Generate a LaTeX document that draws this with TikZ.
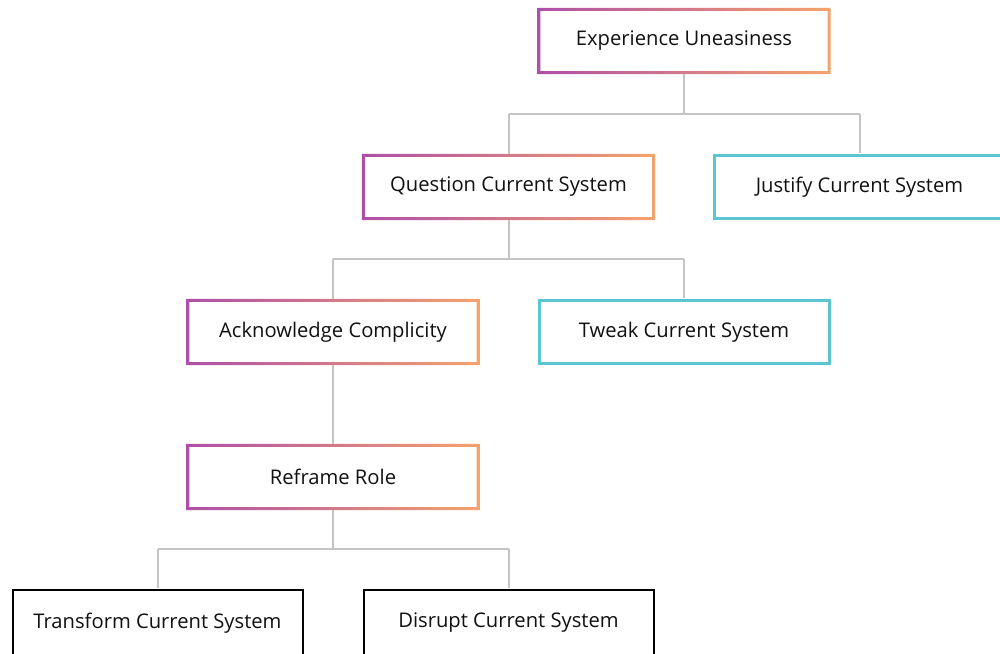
\documentclass[tikz,border=0pt]{standalone}
\usepackage{fontspec}
\setmainfont{Open Sans}
\definecolor{gpurple}{HTML}{AE4FA8}
\definecolor{gorange}{HTML}{F5A36C}
\definecolor{gteal}{HTML}{5BC5D2}
\definecolor{lgray}{HTML}{C4C4C4}
\definecolor{txt}{HTML}{111111}
\tikzset{
  boxnode/.style={minimum width=290pt,minimum height=63pt,inner sep=0pt,font=\fontsize{20.2}{24}\selectfont,text=txt},
  tealbox/.style={boxnode,draw=gteal,line width=3pt},
  blackbox/.style={boxnode,draw=black,line width=2pt,minimum height=66pt},
  conn/.style={draw=lgray,line width=2pt},
}
\newcommand{\gradborder}[1]{%
  \shade[left color=gpurple,right color=gorange,even odd rule]
    ([xshift=-1.5pt,yshift=-1.5pt]#1.south west) rectangle ([xshift=1.5pt,yshift=1.5pt]#1.north east)
    ([xshift=1.5pt,yshift=1.5pt]#1.south west) rectangle ([xshift=-1.5pt,yshift=-1.5pt]#1.north east);}
\begin{document}
\begin{tikzpicture}[x=1pt,y=-1pt]
\useasboundingbox (0,0) rectangle (1000,653);
\clip (0,0) rectangle (1000,653);
\fill[white] (0,0) rectangle (1000,653);
% nodes
\node[boxnode] (exp) at (684,41) {Experience Uneasiness};
\node[boxnode] (que) at (508.5,187) {Question Current System};
\node[tealbox] (jus) at (859.5,187) {Justify Current System};
\node[boxnode] (ack) at (333,332) {Acknowledge Complicity};
\node[tealbox] (twe) at (684,332) {Tweak Current System};
\node[boxnode] (ref) at (333,477) {Reframe Role};
\node[blackbox] (tra) at (157.5,623) {Transform Current System};
\node[blackbox] (dis) at (508.5,623) {Disrupt Current System};
% gradient borders
\gradborder{exp}
\gradborder{que}
\gradborder{ack}
\gradborder{ref}
% connectors
\coordinate (j1) at (684,114);
\coordinate (j2) at (508.5,259);
\coordinate (j3) at (333,549);
\draw[conn] ([yshift=-1.5pt]exp.south) -- (j1);
\draw[conn] (que.north |- j1) -- (jus.north |- j1);
\draw[conn] (que.north |- j1) -- ([yshift=1.5pt]que.north);
\draw[conn] (jus.north |- j1) -- ([yshift=1.5pt]jus.north);
\draw[conn] ([yshift=-1.5pt]que.south) -- (j2);
\draw[conn] (ack.north |- j2) -- (twe.north |- j2);
\draw[conn] (ack.north |- j2) -- ([yshift=1.5pt]ack.north);
\draw[conn] (twe.north |- j2) -- ([yshift=1.5pt]twe.north);
\draw[conn] ([yshift=-1.5pt]ack.south) -- ([yshift=1.5pt]ref.north);
\draw[conn] ([yshift=-1.5pt]ref.south) -- (j3);
\draw[conn] (tra.north |- j3) -- (dis.north |- j3);
\draw[conn] (tra.north |- j3) -- ([yshift=1pt]tra.north);
\draw[conn] (dis.north |- j3) -- ([yshift=1pt]dis.north);
\end{tikzpicture}
\end{document}
